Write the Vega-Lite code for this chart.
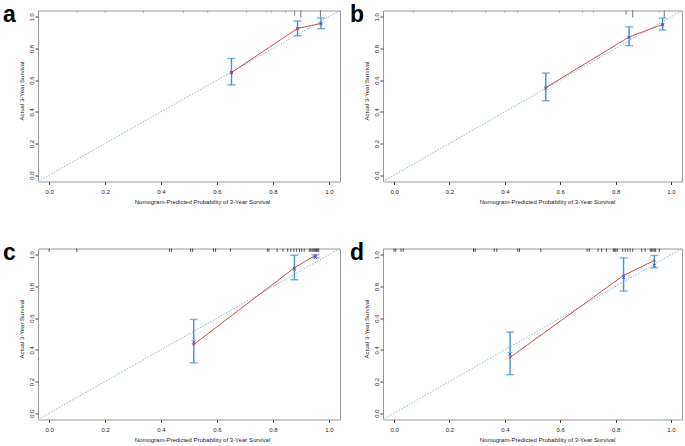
{
"$schema":"https://vega.github.io/schema/vega-lite/v6.json",
"padding":{"left":2,"top":3.5,"right":0,"bottom":0},
"background":"white",
"spacing":36,
"datasets":{
"diag":[{"x":-0.04,"y":-0.04},{"x":1.04,"y":1.04}],
"calA":[{"x":0.652,"y":0.648,"lo":0.570,"hi":0.737,"corr":0.648},{"x":0.888,"y":0.927,"lo":0.881,"hi":0.974,"corr":0.925},{"x":0.972,"y":0.958,"lo":0.925,"hi":0.993,"corr":0.957}],
"calB":[{"x":0.548,"y":0.553,"lo":0.470,"hi":0.645,"corr":0.550},{"x":0.849,"y":0.873,"lo":0.818,"hi":0.937,"corr":0.870},{"x":0.970,"y":0.952,"lo":0.917,"hi":0.992,"corr":0.950}],
"calC":[{"x":0.517,"y":0.434,"lo":0.318,"hi":0.592,"corr":0.449},{"x":0.877,"y":0.918,"lo":0.843,"hi":0.997,"corr":0.910},{"x":0.952,"y":0.997,"lo":0.982,"hi":1.0,"corr":0.984}],
"calD":[{"x":0.419,"y":0.352,"lo":0.243,"hi":0.512,"corr":0.373},{"x":0.829,"y":0.870,"lo":0.771,"hi":0.981,"corr":0.857},{"x":0.940,"y":0.964,"lo":0.918,"hi":0.996,"corr":0.933}],
"rugA":[{"x":0.10,"len":1},{"x":0.20,"len":1},{"x":0.337,"len":1},{"x":0.48,"len":1},{"x":0.567,"len":1},{"x":0.706,"len":1},{"x":0.776,"len":1},{"x":0.794,"len":1},{"x":0.845,"len":1},{"x":0.878,"len":2},{"x":0.900,"len":3},{"x":0.970,"len":3}],
"rugB":[{"x":0.07,"len":1},{"x":0.21,"len":1},{"x":0.331,"len":1},{"x":0.40,"len":1},{"x":0.446,"len":1},{"x":0.598,"len":1},{"x":0.681,"len":1},{"x":0.72,"len":1},{"x":0.838,"len":2},{"x":0.862,"len":3},{"x":0.958,"len":1},{"x":0.976,"len":3}],
"rugC":[{"x":0.0},{"x":0.099},{"x":0.43},{"x":0.437},{"x":0.506},{"x":0.513},{"x":0.588},{"x":0.595},{"x":0.648},{"x":0.78},{"x":0.786},{"x":0.815},{"x":0.836},{"x":0.853},{"x":0.864},{"x":0.875},{"x":0.885},{"x":0.895},{"x":0.903},{"x":0.912},{"x":0.930},{"x":0.935},{"x":0.940},{"x":0.944},{"x":0.948},{"x":0.952},{"x":0.956},{"x":0.960},{"x":0.964}],
"rugD":[{"x":0.0},{"x":0.006},{"x":0.025},{"x":0.033},{"x":0.287},{"x":0.293},{"x":0.362},{"x":0.371},{"x":0.447},{"x":0.453},{"x":0.53},{"x":0.697},{"x":0.705},{"x":0.737},{"x":0.75},{"x":0.767},{"x":0.792},{"x":0.797},{"x":0.801},{"x":0.806},{"x":0.826},{"x":0.835},{"x":0.844},{"x":0.853},{"x":0.862},{"x":0.895},{"x":0.907},{"x":0.925},{"x":0.930},{"x":0.935},{"x":0.940},{"x":0.945},{"x":0.958}]
},
"vconcat":[
{"spacing":6,"hconcat":[
{"width":302,"height":171,"title":{"text":"a","dx":-35},
"encoding":{"x":{"field":"x","type":"quantitative","scale":{"domain":[-0.04,1.04],"nice":false,"zero":false},"axis":{"values":[0,0.2,0.4,0.6,0.8,1],"format":".1f"},"title":"Nomogram-Predicted Probability of 3-Year Survival"}},
"layer":[
{"data":{"name":"diag"},"mark":{"type":"line","strokeDash":[1.5,1.5],"color":"#86b9d2","strokeWidth":1},"encoding":{"y":{"field":"y","type":"quantitative","scale":{"domain":[-0.04,1.04],"nice":false,"zero":false},"axis":{"values":[0,0.2,0.4,0.6,0.8,1],"format":".1f","labelOverlap":false},"title":"Actual 3-Year Survival"}}},
{"data":{"name":"rugA"},"transform":[{"filter":"datum.len == 1"}],"mark":{"type":"rule","strokeWidth":0.8,"color":"#8a8a8a"},"encoding":{"y":{"datum":1.04,"type":"quantitative","scale":{"domain":[-0.04,1.04],"nice":false,"zero":false},"axis":{"values":[0,0.2,0.4,0.6,0.8,1],"format":".1f","labelOverlap":false},"title":"Actual 3-Year Survival"},"y2":{"datum":1.027}}},
{"data":{"name":"rugA"},"transform":[{"filter":"datum.len == 2"}],"mark":{"type":"rule","strokeWidth":0.8,"color":"#666666"},"encoding":{"y":{"datum":1.04,"type":"quantitative","scale":{"domain":[-0.04,1.04],"nice":false,"zero":false},"axis":{"values":[0,0.2,0.4,0.6,0.8,1],"format":".1f","labelOverlap":false},"title":"Actual 3-Year Survival"},"y2":{"datum":1.008}}},
{"data":{"name":"rugA"},"transform":[{"filter":"datum.len == 3"}],"mark":{"type":"rule","strokeWidth":0.8,"color":"#555555"},"encoding":{"y":{"datum":1.04,"type":"quantitative","scale":{"domain":[-0.04,1.04],"nice":false,"zero":false},"axis":{"values":[0,0.2,0.4,0.6,0.8,1],"format":".1f","labelOverlap":false},"title":"Actual 3-Year Survival"},"y2":{"datum":0.996}}},
{"data":{"name":"calA"},"mark":{"type":"rule","color":"#3f92d4","strokeWidth":1.4},"encoding":{"y":{"field":"lo","type":"quantitative","scale":{"domain":[-0.04,1.04],"nice":false,"zero":false},"axis":{"values":[0,0.2,0.4,0.6,0.8,1],"format":".1f","labelOverlap":false},"title":"Actual 3-Year Survival"},"y2":{"field":"hi"}}},
{"data":{"name":"calA"},"mark":{"type":"tick","orient":"horizontal","color":"#3f92d4","thickness":1.4,"size":8},"encoding":{"y":{"field":"lo","type":"quantitative","scale":{"domain":[-0.04,1.04],"nice":false,"zero":false},"axis":{"values":[0,0.2,0.4,0.6,0.8,1],"format":".1f","labelOverlap":false},"title":"Actual 3-Year Survival"}}},
{"data":{"name":"calA"},"mark":{"type":"tick","orient":"horizontal","color":"#3f92d4","thickness":1.4,"size":8},"encoding":{"y":{"field":"hi","type":"quantitative","scale":{"domain":[-0.04,1.04],"nice":false,"zero":false},"axis":{"values":[0,0.2,0.4,0.6,0.8,1],"format":".1f","labelOverlap":false},"title":"Actual 3-Year Survival"}}},
{"data":{"name":"calA"},"mark":{"type":"line","color":"#c8534c","strokeWidth":1},"encoding":{"y":{"field":"y","type":"quantitative","scale":{"domain":[-0.04,1.04],"nice":false,"zero":false},"axis":{"values":[0,0.2,0.4,0.6,0.8,1],"format":".1f","labelOverlap":false},"title":"Actual 3-Year Survival"}}},
{"data":{"name":"calA"},"mark":{"type":"point","shape":"circle","filled":true,"size":6,"color":"#c8534c","opacity":1},"encoding":{"y":{"field":"y","type":"quantitative","scale":{"domain":[-0.04,1.04],"nice":false,"zero":false},"axis":{"values":[0,0.2,0.4,0.6,0.8,1],"format":".1f","labelOverlap":false},"title":"Actual 3-Year Survival"}}},
{"data":{"name":"calA"},"mark":{"type":"point","shape":"M-1,-1L1,1M-1,1L1,-1","filled":false,"size":10,"color":"#3b5bd6","strokeWidth":1,"opacity":1},"encoding":{"y":{"field":"corr","type":"quantitative","scale":{"domain":[-0.04,1.04],"nice":false,"zero":false},"axis":{"values":[0,0.2,0.4,0.6,0.8,1],"format":".1f","labelOverlap":false},"title":"Actual 3-Year Survival"}}}
]},
{"width":299,"height":171,"title":{"text":"b","dx":-33},
"encoding":{"x":{"field":"x","type":"quantitative","scale":{"domain":[-0.04,1.04],"nice":false,"zero":false},"axis":{"values":[0,0.2,0.4,0.6,0.8,1],"format":".1f"},"title":"Nomogram-Predicted Probability of 3-Year Survival"}},
"layer":[
{"data":{"name":"diag"},"mark":{"type":"line","strokeDash":[1.5,1.5],"color":"#86b9d2","strokeWidth":1},"encoding":{"y":{"field":"y","type":"quantitative","scale":{"domain":[-0.04,1.04],"nice":false,"zero":false},"axis":{"values":[0,0.2,0.4,0.6,0.8,1],"format":".1f","labelOverlap":false},"title":"Actual 3-Year Survival"}}},
{"data":{"name":"rugB"},"transform":[{"filter":"datum.len == 1"}],"mark":{"type":"rule","strokeWidth":0.8,"color":"#8a8a8a"},"encoding":{"y":{"datum":1.04,"type":"quantitative","scale":{"domain":[-0.04,1.04],"nice":false,"zero":false},"axis":{"values":[0,0.2,0.4,0.6,0.8,1],"format":".1f","labelOverlap":false},"title":"Actual 3-Year Survival"},"y2":{"datum":1.027}}},
{"data":{"name":"rugB"},"transform":[{"filter":"datum.len == 2"}],"mark":{"type":"rule","strokeWidth":0.8,"color":"#666666"},"encoding":{"y":{"datum":1.04,"type":"quantitative","scale":{"domain":[-0.04,1.04],"nice":false,"zero":false},"axis":{"values":[0,0.2,0.4,0.6,0.8,1],"format":".1f","labelOverlap":false},"title":"Actual 3-Year Survival"},"y2":{"datum":1.012}}},
{"data":{"name":"rugB"},"transform":[{"filter":"datum.len == 3"}],"mark":{"type":"rule","strokeWidth":0.8,"color":"#555555"},"encoding":{"y":{"datum":1.04,"type":"quantitative","scale":{"domain":[-0.04,1.04],"nice":false,"zero":false},"axis":{"values":[0,0.2,0.4,0.6,0.8,1],"format":".1f","labelOverlap":false},"title":"Actual 3-Year Survival"},"y2":{"datum":0.996}}},
{"data":{"name":"calB"},"mark":{"type":"rule","color":"#3f92d4","strokeWidth":1.4},"encoding":{"y":{"field":"lo","type":"quantitative","scale":{"domain":[-0.04,1.04],"nice":false,"zero":false},"axis":{"values":[0,0.2,0.4,0.6,0.8,1],"format":".1f","labelOverlap":false},"title":"Actual 3-Year Survival"},"y2":{"field":"hi"}}},
{"data":{"name":"calB"},"mark":{"type":"tick","orient":"horizontal","color":"#3f92d4","thickness":1.4,"size":8},"encoding":{"y":{"field":"lo","type":"quantitative","scale":{"domain":[-0.04,1.04],"nice":false,"zero":false},"axis":{"values":[0,0.2,0.4,0.6,0.8,1],"format":".1f","labelOverlap":false},"title":"Actual 3-Year Survival"}}},
{"data":{"name":"calB"},"mark":{"type":"tick","orient":"horizontal","color":"#3f92d4","thickness":1.4,"size":8},"encoding":{"y":{"field":"hi","type":"quantitative","scale":{"domain":[-0.04,1.04],"nice":false,"zero":false},"axis":{"values":[0,0.2,0.4,0.6,0.8,1],"format":".1f","labelOverlap":false},"title":"Actual 3-Year Survival"}}},
{"data":{"name":"calB"},"mark":{"type":"line","color":"#c8534c","strokeWidth":1},"encoding":{"y":{"field":"y","type":"quantitative","scale":{"domain":[-0.04,1.04],"nice":false,"zero":false},"axis":{"values":[0,0.2,0.4,0.6,0.8,1],"format":".1f","labelOverlap":false},"title":"Actual 3-Year Survival"}}},
{"data":{"name":"calB"},"mark":{"type":"point","shape":"circle","filled":true,"size":6,"color":"#c8534c","opacity":1},"encoding":{"y":{"field":"y","type":"quantitative","scale":{"domain":[-0.04,1.04],"nice":false,"zero":false},"axis":{"values":[0,0.2,0.4,0.6,0.8,1],"format":".1f","labelOverlap":false},"title":"Actual 3-Year Survival"}}},
{"data":{"name":"calB"},"mark":{"type":"point","shape":"M-1,-1L1,1M-1,1L1,-1","filled":false,"size":10,"color":"#3b5bd6","strokeWidth":1,"opacity":1},"encoding":{"y":{"field":"corr","type":"quantitative","scale":{"domain":[-0.04,1.04],"nice":false,"zero":false},"axis":{"values":[0,0.2,0.4,0.6,0.8,1],"format":".1f","labelOverlap":false},"title":"Actual 3-Year Survival"}}}
]}
]},
{"spacing":6,"hconcat":[
{"width":302,"height":171,"title":{"text":"c","dx":-35},
"encoding":{"x":{"field":"x","type":"quantitative","scale":{"domain":[-0.04,1.04],"nice":false,"zero":false},"axis":{"values":[0,0.2,0.4,0.6,0.8,1],"format":".1f"},"title":"Nomogram-Predicted Probability of 3-Year Survival"}},
"layer":[
{"data":{"name":"diag"},"mark":{"type":"line","strokeDash":[1.5,1.5],"color":"#86b9d2","strokeWidth":1},"encoding":{"y":{"field":"y","type":"quantitative","scale":{"domain":[-0.04,1.04],"nice":false,"zero":false},"axis":{"values":[0,0.2,0.4,0.6,0.8,1],"format":".1f","labelOverlap":false},"title":"Actual 3-Year Survival"}}},
{"data":{"name":"rugC"},"mark":{"type":"rule","strokeWidth":0.8,"color":"#222222"},"encoding":{"y":{"datum":1.04,"type":"quantitative","scale":{"domain":[-0.04,1.04],"nice":false,"zero":false},"axis":{"values":[0,0.2,0.4,0.6,0.8,1],"format":".1f","labelOverlap":false},"title":"Actual 3-Year Survival"},"y2":{"datum":1.019}}},
{"data":{"name":"calC"},"mark":{"type":"rule","color":"#3f92d4","strokeWidth":1.4},"encoding":{"y":{"field":"lo","type":"quantitative","scale":{"domain":[-0.04,1.04],"nice":false,"zero":false},"axis":{"values":[0,0.2,0.4,0.6,0.8,1],"format":".1f","labelOverlap":false},"title":"Actual 3-Year Survival"},"y2":{"field":"hi"}}},
{"data":{"name":"calC"},"mark":{"type":"tick","orient":"horizontal","color":"#3f92d4","thickness":1.4,"size":8},"encoding":{"y":{"field":"lo","type":"quantitative","scale":{"domain":[-0.04,1.04],"nice":false,"zero":false},"axis":{"values":[0,0.2,0.4,0.6,0.8,1],"format":".1f","labelOverlap":false},"title":"Actual 3-Year Survival"}}},
{"data":{"name":"calC"},"mark":{"type":"tick","orient":"horizontal","color":"#3f92d4","thickness":1.4,"size":8},"encoding":{"y":{"field":"hi","type":"quantitative","scale":{"domain":[-0.04,1.04],"nice":false,"zero":false},"axis":{"values":[0,0.2,0.4,0.6,0.8,1],"format":".1f","labelOverlap":false},"title":"Actual 3-Year Survival"}}},
{"data":{"name":"calC"},"mark":{"type":"line","color":"#c8534c","strokeWidth":1},"encoding":{"y":{"field":"y","type":"quantitative","scale":{"domain":[-0.04,1.04],"nice":false,"zero":false},"axis":{"values":[0,0.2,0.4,0.6,0.8,1],"format":".1f","labelOverlap":false},"title":"Actual 3-Year Survival"}}},
{"data":{"name":"calC"},"mark":{"type":"point","shape":"circle","filled":true,"size":6,"color":"#c8534c","opacity":1},"encoding":{"y":{"field":"y","type":"quantitative","scale":{"domain":[-0.04,1.04],"nice":false,"zero":false},"axis":{"values":[0,0.2,0.4,0.6,0.8,1],"format":".1f","labelOverlap":false},"title":"Actual 3-Year Survival"}}},
{"data":{"name":"calC"},"mark":{"type":"point","shape":"M-1,-1L1,1M-1,1L1,-1","filled":false,"size":10,"color":"#3b5bd6","strokeWidth":1,"opacity":1},"encoding":{"y":{"field":"corr","type":"quantitative","scale":{"domain":[-0.04,1.04],"nice":false,"zero":false},"axis":{"values":[0,0.2,0.4,0.6,0.8,1],"format":".1f","labelOverlap":false},"title":"Actual 3-Year Survival"}}}
]},
{"width":299,"height":171,"title":{"text":"d","dx":-33},
"encoding":{"x":{"field":"x","type":"quantitative","scale":{"domain":[-0.04,1.04],"nice":false,"zero":false},"axis":{"values":[0,0.2,0.4,0.6,0.8,1],"format":".1f"},"title":"Nomogram-Predicted Probability of 3-Year Survival"}},
"layer":[
{"data":{"name":"diag"},"mark":{"type":"line","strokeDash":[1.5,1.5],"color":"#86b9d2","strokeWidth":1},"encoding":{"y":{"field":"y","type":"quantitative","scale":{"domain":[-0.04,1.04],"nice":false,"zero":false},"axis":{"values":[0,0.2,0.4,0.6,0.8,1],"format":".1f","labelOverlap":false},"title":"Actual 3-Year Survival"}}},
{"data":{"name":"rugD"},"mark":{"type":"rule","strokeWidth":0.8,"color":"#222222"},"encoding":{"y":{"datum":1.04,"type":"quantitative","scale":{"domain":[-0.04,1.04],"nice":false,"zero":false},"axis":{"values":[0,0.2,0.4,0.6,0.8,1],"format":".1f","labelOverlap":false},"title":"Actual 3-Year Survival"},"y2":{"datum":1.019}}},
{"data":{"name":"calD"},"mark":{"type":"rule","color":"#3f92d4","strokeWidth":1.4},"encoding":{"y":{"field":"lo","type":"quantitative","scale":{"domain":[-0.04,1.04],"nice":false,"zero":false},"axis":{"values":[0,0.2,0.4,0.6,0.8,1],"format":".1f","labelOverlap":false},"title":"Actual 3-Year Survival"},"y2":{"field":"hi"}}},
{"data":{"name":"calD"},"mark":{"type":"tick","orient":"horizontal","color":"#3f92d4","thickness":1.4,"size":8},"encoding":{"y":{"field":"lo","type":"quantitative","scale":{"domain":[-0.04,1.04],"nice":false,"zero":false},"axis":{"values":[0,0.2,0.4,0.6,0.8,1],"format":".1f","labelOverlap":false},"title":"Actual 3-Year Survival"}}},
{"data":{"name":"calD"},"mark":{"type":"tick","orient":"horizontal","color":"#3f92d4","thickness":1.4,"size":8},"encoding":{"y":{"field":"hi","type":"quantitative","scale":{"domain":[-0.04,1.04],"nice":false,"zero":false},"axis":{"values":[0,0.2,0.4,0.6,0.8,1],"format":".1f","labelOverlap":false},"title":"Actual 3-Year Survival"}}},
{"data":{"name":"calD"},"mark":{"type":"line","color":"#c8534c","strokeWidth":1},"encoding":{"y":{"field":"y","type":"quantitative","scale":{"domain":[-0.04,1.04],"nice":false,"zero":false},"axis":{"values":[0,0.2,0.4,0.6,0.8,1],"format":".1f","labelOverlap":false},"title":"Actual 3-Year Survival"}}},
{"data":{"name":"calD"},"mark":{"type":"point","shape":"circle","filled":true,"size":6,"color":"#c8534c","opacity":1},"encoding":{"y":{"field":"y","type":"quantitative","scale":{"domain":[-0.04,1.04],"nice":false,"zero":false},"axis":{"values":[0,0.2,0.4,0.6,0.8,1],"format":".1f","labelOverlap":false},"title":"Actual 3-Year Survival"}}},
{"data":{"name":"calD"},"mark":{"type":"point","shape":"M-1,-1L1,1M-1,1L1,-1","filled":false,"size":10,"color":"#3b5bd6","strokeWidth":1,"opacity":1},"encoding":{"y":{"field":"corr","type":"quantitative","scale":{"domain":[-0.04,1.04],"nice":false,"zero":false},"axis":{"values":[0,0.2,0.4,0.6,0.8,1],"format":".1f","labelOverlap":false},"title":"Actual 3-Year Survival"}}}
]}
]}
],
"config":{
"view":{"stroke":"#9a9a9a","strokeWidth":1},
"font":"Liberation Sans",
"axis":{"grid":false,"domain":false,"tickSize":3,"tickColor":"#444444","labelColor":"#222222","titleColor":"#222222","labelFontSize":6,"titleFontSize":6,"titleFontWeight":"normal","labelFont":"Liberation Sans","titleFont":"Liberation Sans","labelFlush":false,"labelOverlap":false},
"axisX":{"labelPadding":4,"titlePadding":4.4,"titleX":164},
"axisY":{"labelAngle":270,"labelAlign":"center","labelBaseline":"bottom","labelPadding":1,"titlePadding":3.5,"titleY":80},
"title":{"anchor":"start","frame":"group","fontSize":23,"fontWeight":"bold","font":"Liberation Sans","baseline":"alphabetic","offset":-18.5,"color":"#000000"}
}
}
